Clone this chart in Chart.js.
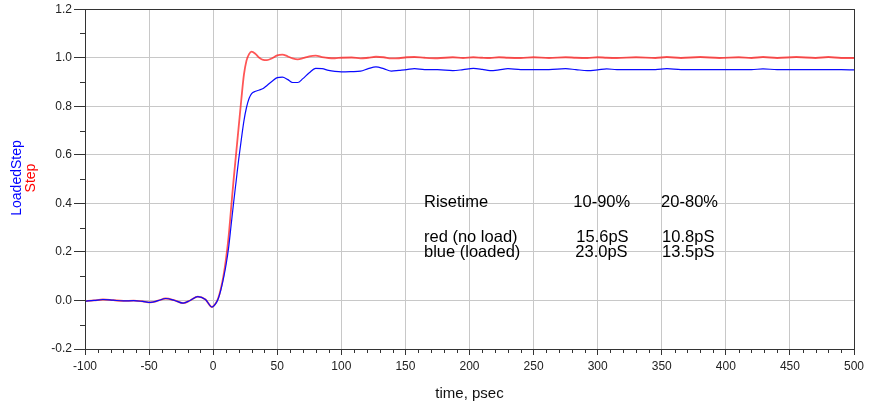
<!DOCTYPE html>
<html>
<head>
<meta charset="utf-8">
<script src="https://cdn.jsdelivr.net/npm/chart.js@4"></script>
<style>
  html, body { margin: 0; padding: 0; background: #fff; }
  #wrap { width: 869px; height: 408px; position: relative; }
</style>
</head>
<body>
<div id="wrap"><canvas id="stepChart"></canvas></div>
<script>
// time axis in psec, shared by both traces
const timePs = [-100, -93, -86, -78, -70, -62, -55, -49, -43, -37, -30, -23.5, -18, -12, -6, -1,
  2, 4, 6, 8, 10, 12, 14, 16, 18, 20, 22, 24, 26, 28, 30, 33, 36, 39, 42, 46, 50, 54, 58, 62, 66,
  70, 75, 80, 85, 90, 95, 100, 108, 115, 121, 127, 133, 139, 145, 151, 157, 165, 175, 187, 195,
  203, 210, 216, 223, 230, 240, 250, 262, 275, 283, 292, 300, 307, 315, 330, 345, 354, 365, 380,
  395, 410, 420, 429, 440, 455, 470, 480, 490, 500];

// Step (no load) - red
const stepValues = [-0.003, 0.000, 0.004, 0.001, -0.002, -0.001, -0.004, -0.008, -0.001, 0.008, 0.000, -0.011, 0.000, 0.016, 0.004, -0.027,
  -0.012, 0.010, 0.048, 0.100, 0.170, 0.260, 0.380, 0.500, 0.610, 0.720, 0.830, 0.930, 0.988, 1.015, 1.025, 1.016, 1.000, 0.991, 0.990, 0.998, 1.010, 1.013, 1.006, 0.997, 0.993,
  0.998, 1.006, 1.009, 1.003, 0.999, 0.998, 1.000, 1.001, 0.997, 1.000, 1.004, 1.002, 0.997, 0.998, 1.002, 1.003, 1.000, 0.998, 1.002, 0.999,
  1.002, 1.000, 0.999, 1.002, 1.000, 0.999, 1.002, 0.999, 1.002, 1.000, 0.999, 1.002, 1.000, 0.999, 1.002, 0.999, 1.003, 0.999, 1.003,
  0.999, 1.002, 0.999, 1.003, 0.999, 1.003, 0.999, 1.003, 0.999, 0.999];

// LoadedStep - blue
const loadedValues = [-0.003, 0.000, 0.004, 0.001, -0.002, -0.001, -0.004, -0.008, -0.001, 0.008, 0.000, -0.011, 0.000, 0.016, 0.004, -0.027,
  -0.013, 0.008, 0.044, 0.090, 0.145, 0.215, 0.310, 0.405, 0.495, 0.585, 0.665, 0.740, 0.795, 0.832, 0.852, 0.862, 0.867, 0.873, 0.886, 0.903, 0.918, 0.920, 0.911, 0.898, 0.898,
  0.914, 0.938, 0.956, 0.955, 0.948, 0.944, 0.942, 0.943, 0.945, 0.955, 0.962, 0.955, 0.945, 0.948, 0.951, 0.955, 0.951, 0.951, 0.947, 0.951,
  0.956, 0.952, 0.947, 0.950, 0.955, 0.951, 0.951, 0.951, 0.955, 0.951, 0.947, 0.950, 0.954, 0.951, 0.951, 0.951, 0.955, 0.951, 0.951,
  0.951, 0.951, 0.951, 0.954, 0.951, 0.951, 0.951, 0.951, 0.951, 0.950];

// risetime note, one row per line
const noteRows = [
  ['Risetime', '10-90%', '20-80%'],
  ['red (no load)', '15.6pS', '10.8pS'],
  ['blue (loaded)', '23.0pS', '13.5pS']
];

const FONT = "'Liberation Sans', Arial, sans-serif";

function toPoints(xs, ys) {
  return xs.map((x, i) => ({ x: x, y: ys[i] }));
}

// frame, minor ticks, y-axis legend title and the risetime note
const decorations = {
  id: 'decorations',
  afterDraw(chart) {
    const ctx = chart.ctx;
    const area = chart.chartArea;
    const xs = chart.scales.x;
    const ys = chart.scales.y;

    ctx.save();
    ctx.strokeStyle = '#333';
    ctx.lineWidth = 1;
    ctx.strokeRect(Math.round(area.left) + 0.5, Math.round(area.top) + 0.5,
      Math.round(area.right - area.left), Math.round(area.bottom - area.top));

    // minor ticks
    ctx.beginPath();
    for (let t = -90; t < 500; t += 10) {
      if (t % 50 === 0) continue;
      const px = Math.round(xs.getPixelForValue(t)) + 0.5;
      ctx.moveTo(px, area.bottom);
      ctx.lineTo(px, area.bottom + 4);
    }
    for (let k = -1; k <= 11; k += 2) {
      const py = Math.round(ys.getPixelForValue(k / 10)) + 0.5;
      ctx.moveTo(area.left - 5, py);
      ctx.lineTo(area.left, py);
    }
    ctx.stroke();

    // rotated series names on the left
    ctx.translate(17, 178);
    ctx.rotate(-Math.PI / 2);
    ctx.textAlign = 'center';
    ctx.textBaseline = 'middle';
    ctx.font = '14px ' + FONT;
    ctx.fillStyle = '#0000ff';
    ctx.fillText('LoadedStep', 0, 0);
    ctx.fillStyle = '#ff0000';
    ctx.fillText('Step', 0, 14);
    ctx.restore();

    // x axis title
    ctx.save();
    ctx.font = '15px ' + FONT;
    ctx.fillStyle = '#111';
    ctx.textAlign = 'center';
    ctx.textBaseline = 'middle';
    ctx.fillText('time, psec', (area.left + area.right) / 2, 394);

    // risetime note
    const colX = [164.5, 281, 349.5];
    const colShift = [[0, 0, 0], [0, 3, 1], [0, 2, 1]];
    const rowY = [0.386, 0.2425, 0.181];
    ctx.font = '16.5px ' + FONT;
    ctx.fillStyle = '#000';
    ctx.textAlign = 'left';
    ctx.textBaseline = 'alphabetic';
    noteRows.forEach((row, r) => {
      row.forEach((txt, c) => {
        ctx.fillText(txt, xs.getPixelForValue(colX[c]) + colShift[r][c], ys.getPixelForValue(rowY[r]));
      });
    });
    ctx.restore();
  }
};

function renderChart() {
  const ctx = document.getElementById('stepChart').getContext('2d');
  new Chart(ctx, {
    type: 'line',
    data: {
      datasets: [
        {
          label: 'LoadedStep',
          data: toPoints(timePs, loadedValues),
          borderColor: '#0a0aff',
          borderWidth: 1.2,
          order: 0
        },
        {
          label: 'Step',
          data: toPoints(timePs, stepValues),
          borderColor: 'rgba(255, 30, 30, 0.75)',
          borderWidth: 1.8,
          order: 1
        }
      ]
    },
    options: {
      responsive: true,
      maintainAspectRatio: false,
      animation: false,
      layout: { padding: { top: 9, right: 15, left: 0, bottom: 0 } },
      elements: {
        point: { radius: 0 },
        line: { cubicInterpolationMode: 'monotone', fill: false }
      },
      plugins: {
        legend: { display: false },
        tooltip: { enabled: false }
      },
      scales: {
        x: {
          type: 'linear',
          min: -100,
          max: 500,
          afterFit: (scale) => { scale.height = 59; },
          border: { color: '#333' },
          grid: { color: '#c8c8c8', tickColor: '#333', tickLength: 6 },
          ticks: {
            stepSize: 50,
            maxRotation: 0,
            padding: 4,
            color: '#222',
            font: { family: FONT, size: 12 }
          }
        },
        y: {
          min: -0.2,
          max: 1.2,
          afterFit: (scale) => { scale.width = 85; },
          border: { color: '#333' },
          grid: { color: '#c8c8c8', tickColor: '#333', tickLength: 11 },
          ticks: {
            stepSize: 0.2,
            padding: 2,
            color: '#222',
            font: { family: FONT, size: 12 },
            callback: (v) => (Math.abs(v) < 1e-9 ? 0 : v).toFixed(1)
          }
        }
      }
    },
    plugins: [decorations]
  });
}

document.addEventListener('DOMContentLoaded', renderChart);
</script>
</body>
</html>
